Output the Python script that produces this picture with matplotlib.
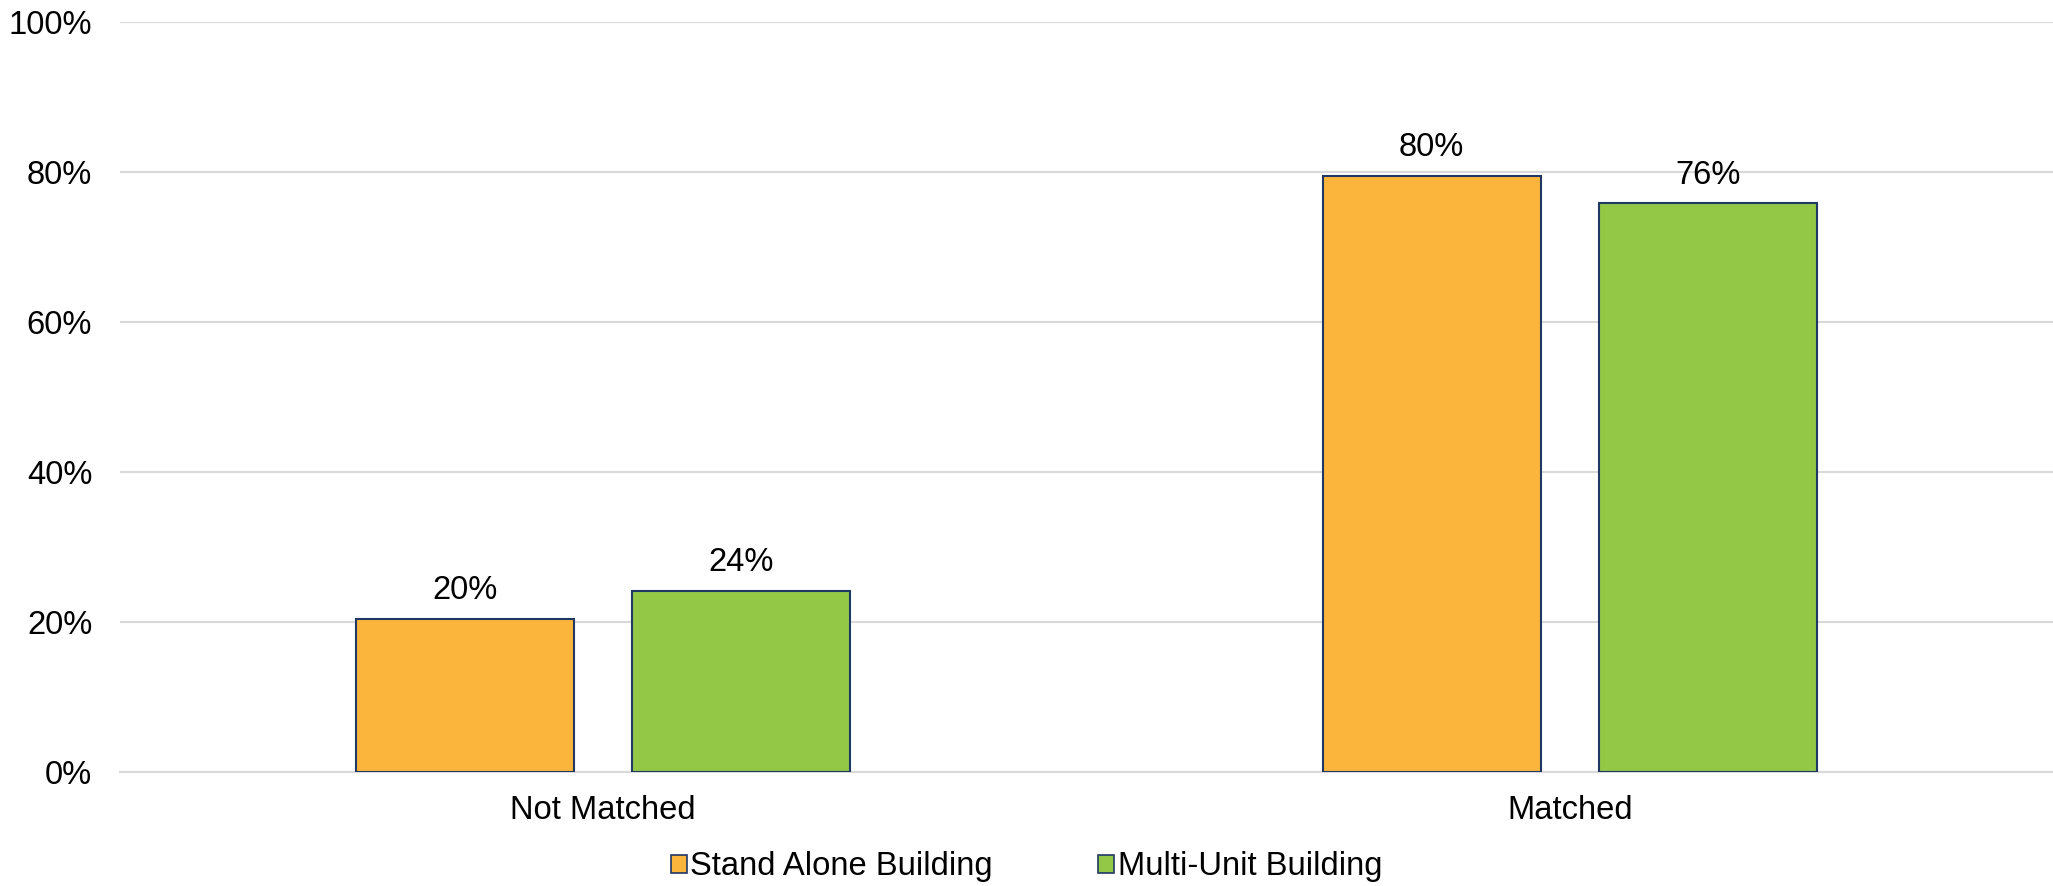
import matplotlib
matplotlib.use("Agg")
import matplotlib.pyplot as plt
from matplotlib.patches import Patch
import numpy as np

categories = ["Not Matched", "Matched"]
series_names = ["Stand Alone Building", "Multi-Unit Building"]
stand_alone = [20.4, 79.5]
multi_unit = [24.1, 75.8]
value_labels_sa = ["20%", "80%"]
value_labels_mu = ["24%", "76%"]
colors = ["#FBB53C", "#93C847"]
edge = "#1F3864"

plt.rcParams['font.family'] = ['Liberation Sans', 'DejaVu Sans']
FS = 23.6

fig = plt.figure(figsize=(20.53, 8.86), dpi=100)
ax = fig.add_axes([120/2053, 1-771.5/886, 1-120/2053, (771.5-22)/886])

x = np.arange(len(categories))
w = 0.2256
off = 0.143
b1 = ax.bar(x - off, stand_alone, w, color=colors[0], edgecolor=edge, linewidth=1.5, zorder=3)
b2 = ax.bar(x + off, multi_unit, w, color=colors[1], edgecolor=edge, linewidth=1.5, zorder=3)
ax.bar_label(b1, labels=value_labels_sa, padding=9, fontsize=FS)
ax.bar_label(b2, labels=value_labels_mu, padding=9, fontsize=FS)

ax.set_xlim(-0.5, 1.5)
ax.set_ylim(0, 100)
ax.set_yticks([0, 20, 40, 60, 80, 100])
ax.set_yticklabels([f"{v}%" for v in [0, 20, 40, 60, 80, 100]], fontsize=FS)
ax.set_xticks(x)
ax.set_xticklabels(categories, fontsize=FS)
ax.tick_params(axis='y', length=0, pad=20)
ax.tick_params(axis='x', length=0, pad=17)
ax.grid(axis='y', color='#D9D9D9', linewidth=1.5, zorder=0)
for s in ['top', 'right', 'left']:
    ax.spines[s].set_visible(False)
ax.spines['bottom'].set_color('#D9D9D9')
ax.spines['bottom'].set_linewidth(1.5)

handles = [Patch(facecolor=colors[0], edgecolor=edge, linewidth=1.2),
           Patch(facecolor=colors[1], edgecolor=edge, linewidth=1.2)]
fig.legend(handles, series_names, loc='center', bbox_to_anchor=(0.5, 1-867/886),
           ncol=2, frameon=False, fontsize=FS, handlelength=0.48, handleheight=0.48,
           handletextpad=0.12, columnspacing=3.2, borderpad=0.2)

fig.savefig("out.png", dpi=100)
